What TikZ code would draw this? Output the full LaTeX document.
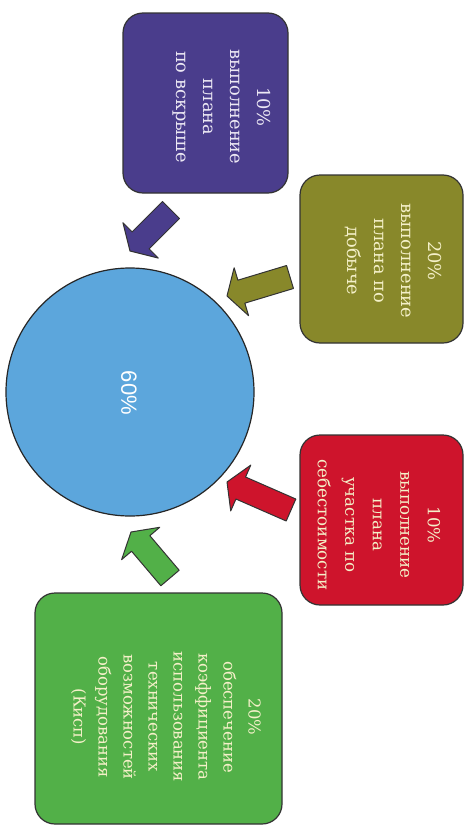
\documentclass[tikz,border=0pt]{standalone}
\usepackage{fontspec}
\newfontfamily\boxfont{DejaVu Serif}
\newfontfamily\circfont{Liberation Sans}
\usetikzlibrary{calc}
\definecolor{cpurple}{RGB}{74,61,140}
\definecolor{colive}{RGB}{136,136,42}
\definecolor{cred}{RGB}{206,20,44}
\definecolor{cgreen}{RGB}{82,176,72}
\definecolor{cblue}{RGB}{92,166,220}
\definecolor{txtlight}{RGB}{244,240,200}
\definecolor{txtwhite}{RGB}{236,232,244}
\tikzset{
  box/.style={draw=black!80, line width=1.2pt, rounded corners=20pt, inner sep=0pt},
  boxtext/.style={rotate=-90, align=center, inner sep=0pt,
    font=\boxfont\fontsize{17.8}{27}\selectfont},
  arrowshape/.style={draw=black!80, line width=1pt, line join=round},
}
\newcommand\blockarrow[4]{%
  \coordinate (#4n) at ($(#2)!15pt!(#1)$);
  \draw[arrowshape, fill=#3]
    ($(#1)!12pt!90:(#2)$) -- ($(#4n)!12pt!90:(#2)$) -- ($(#4n)!25pt!90:(#2)$)
    -- (#2) -- ($(#4n)!25pt!-90:(#2)$) -- ($(#4n)!12pt!-90:(#2)$)
    -- ($(#1)!12pt!-90:(#2)$) -- cycle;
}
\begin{document}
\begin{tikzpicture}[x=1pt,y=-1pt]
\fill[white] (0,0) rectangle (467,827);
\useasboundingbox (0,0) rectangle (467,827);

% central circle
\node[draw=black!85, line width=1.2pt, fill=cblue, circle, minimum size=248pt, inner sep=0pt] (c) at (130,392) {};
\node[rotate=-90, text=white, font=\circfont\fontsize{22}{26}\selectfont, inner sep=0pt] (ct) at (129,393) {60\%};

% boxes
\node[box, fill=cpurple, minimum width=165pt, minimum height=180pt] (b1) at (205.5,103) {};
\node[boxtext, text=txtwhite] (t1) at (222,107) {10\%\\выполнение\\плана\\по вскрыше};

\node[box, fill=colive, minimum width=163pt, minimum height=168pt] (b2) at (381.5,259) {};
\node[boxtext, text=txtlight] (t2) at (393,261) {20\%\\выполнение\\плана по\\добыче};

\node[box, fill=cred, minimum width=163pt, minimum height=170pt] (b3) at (381.5,520) {};
\node[boxtext, text=txtlight, font=\boxfont\fontsize{16.6}{27.5}\selectfont] (t3) at (379,525) {10\%\\выполнение\\плана\\участка по\\себестоимости};

\node[box, fill=cgreen, minimum width=247pt, minimum height=231pt] (b4) at (158.5,708.5) {};
\node[boxtext, text=txtlight, font=\boxfont\fontsize{16.4}{25}\selectfont] (t4) at (166,717) {20\%\\обеспечение\\коэффициента\\использования\\технических\\возможностей\\оборудования\\(Кисп)};

% arrow ends
\coordinate (a1s) at (171,210); \coordinate (a1e) at (130,251);
\coordinate (a2s) at (290,277); \coordinate (a2e) at (227,296);
\coordinate (a3s) at (291,510); \coordinate (a3e) at (227,482);
\coordinate (a4s) at (170,578); \coordinate (a4e) at (131,532);

\blockarrow{a1s}{a1e}{cpurple}{a1}
\blockarrow{a2s}{a2e}{colive}{a2}
\blockarrow{a3s}{a3e}{cred}{a3}
\blockarrow{a4s}{a4e}{cgreen}{a4}
\end{tikzpicture}
\end{document}
